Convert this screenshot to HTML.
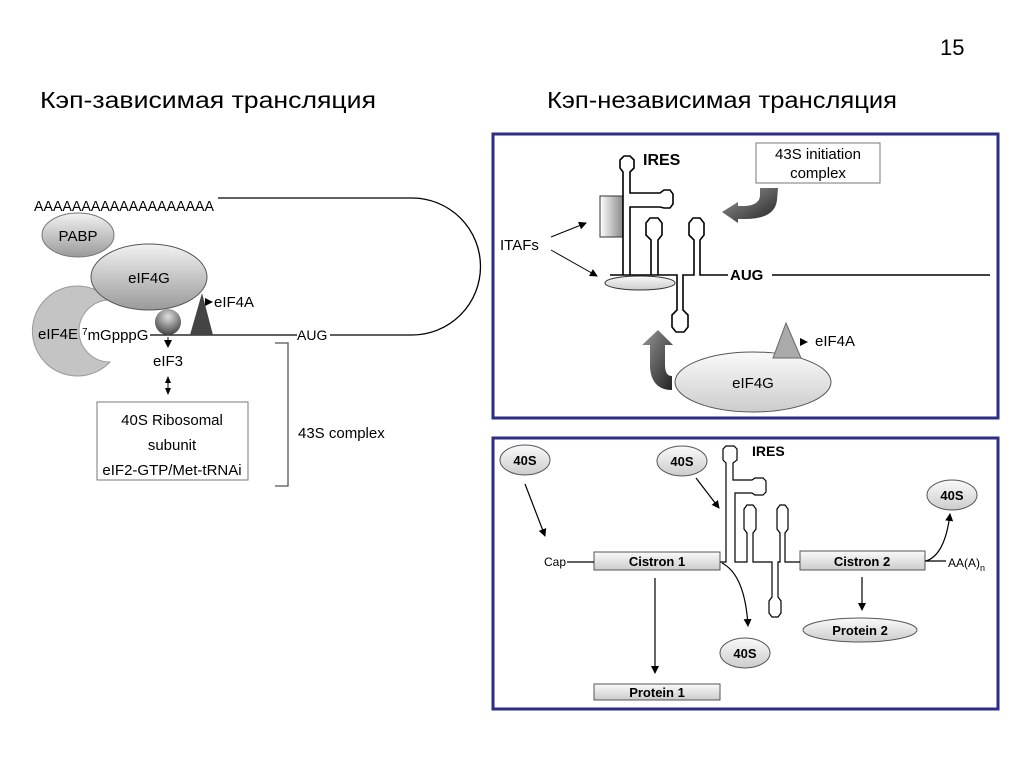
<!DOCTYPE html>
<html><head><meta charset="utf-8"><style>
html,body{margin:0;padding:0;background:#fff;}
svg{display:block;}
text{font-family:"Liberation Sans",sans-serif;}
</style></head><body>
<svg width="1024" height="768" viewBox="0 0 1024 768" xmlns="http://www.w3.org/2000/svg">
<defs>
<linearGradient id="g1" x1="0" y1="0" x2="0" y2="1"><stop offset="0" stop-color="#f2f2f2"/><stop offset="1" stop-color="#9a9a9a"/></linearGradient>
<radialGradient id="g2" cx="0.5" cy="0.3" r="0.7"><stop offset="0" stop-color="#e0e0e0"/><stop offset="1" stop-color="#444"/></radialGradient>
<linearGradient id="g3" x1="0" y1="0" x2="1" y2="0"><stop offset="0" stop-color="#fff"/><stop offset="1" stop-color="#888"/></linearGradient>
<linearGradient id="g4" x1="0" y1="0" x2="0" y2="1"><stop offset="0" stop-color="#fafafa"/><stop offset="1" stop-color="#ccc"/></linearGradient>
<linearGradient id="g5" x1="0" y1="0" x2="1" y2="1"><stop offset="0" stop-color="#999"/><stop offset="1" stop-color="#222"/></linearGradient>
<marker id="ah" markerWidth="8" markerHeight="8" refX="7" refY="4" orient="auto" markerUnits="userSpaceOnUse"><path d="M0,0 L8,4 L0,8 Z" fill="#000"/></marker>
</defs>

<text x="940" y="55" font-size="22">15</text>
<text x="40" y="108" font-size="23" textLength="336" lengthAdjust="spacingAndGlyphs">Кэп-зависимая трансляция</text>
<text x="547" y="108" font-size="23" textLength="350" lengthAdjust="spacingAndGlyphs">Кэп-независимая трансляция</text>

<!-- LEFT -->
<text x="34" y="211" font-size="15" textLength="180" lengthAdjust="spacingAndGlyphs">AAAAAAAAAAAAAAAAAAA</text>
<path d="M218,198 L412,198 A68.5,68.5 0 0 1 412,335 L330,335" fill="none" stroke="#000" stroke-width="1.3"/>
<line x1="150" y1="335" x2="297" y2="335" stroke="#000" stroke-width="1.3"/>
<text x="297" y="340" font-size="14">AUG</text>
<ellipse cx="78" cy="235" rx="36" ry="22" fill="url(#g1)" stroke="#777"/>
<text x="78" y="241" font-size="15" text-anchor="middle">PABP</text>
<path d="M110,300 A45,45 0 1 0 110,362 A26,26 0 0 1 110,300 Z" fill="#c4c4c4" stroke="#999"/>
<ellipse cx="149" cy="277" rx="58" ry="33" fill="url(#g1)" stroke="#555"/>
<text x="149" y="283" font-size="15" text-anchor="middle">eIF4G</text>
<text x="38" y="339" font-size="15">eIF4E</text>
<text x="82" y="340" font-size="15"><tspan font-size="10" dy="-5">7</tspan><tspan dy="5">mGpppG</tspan></text>
<circle cx="168" cy="322" r="13" fill="url(#g2)"/>
<path d="M190,335 L213,335 L202,293 Z" fill="#444"/>
<line x1="206" y1="302" x2="212" y2="302" stroke="#000" marker-end="url(#ah)"/>
<text x="214" y="307" font-size="15">eIF4A</text>
<line x1="168" y1="337" x2="168" y2="347" stroke="#000" marker-end="url(#ah)"/>
<text x="168" y="366" font-size="15" text-anchor="middle">eIF3</text>
<path d="M168,376 L165,383 L171,383 Z M168,395 L165,388 L171,388 Z" fill="#000"/>
<line x1="168" y1="380" x2="168" y2="392" stroke="#000"/>
<rect x="97" y="402" width="151" height="78" fill="#fff" stroke="#777"/>
<text x="172" y="425" font-size="15" text-anchor="middle">40S Ribosomal</text>
<text x="172" y="450" font-size="15" text-anchor="middle">subunit</text>
<text x="172" y="475" font-size="15" text-anchor="middle">eIF2-GTP/Met-tRNAi</text>
<path d="M275,343 L288,343 L288,486 L275,486" fill="none" stroke="#555" stroke-width="1.3"/>
<text x="298" y="438" font-size="15">43S complex</text>

<!-- TOP RIGHT -->
<rect x="493" y="134" width="505" height="284" fill="#fff" stroke="#2d2d88" stroke-width="3"/>
<text x="643" y="165" font-size="16" font-weight="bold">IRES</text>
<rect x="756" y="143" width="124" height="40" fill="#fff" stroke="#777"/>
<text x="818" y="159" font-size="15" text-anchor="middle">43S initiation</text>
<text x="818" y="178" font-size="15" text-anchor="middle">complex</text>
<path d="M760,188 L778,188 L777,200 Q775,219 745,219 L738,219 L738,223 L722,212 L738,202 L738,206 L745,206 Q760,205 760,195 Z" fill="url(#g5)"/>
<rect x="600" y="196" width="23" height="41" fill="url(#g3)" stroke="#333"/>
<g fill="none" stroke="#000" stroke-width="1.6">
<path d="M623,275 L623,172 L620,168 L620,160 L624,156 L630,156 L634,160 L634,168 L630,172 L630,193 L660,193 L664,190 L670,190 L673,194 L673,204 L670,208 L664,208 L660,207 L630,207 L630,275"/>
<path d="M651,275 L651,240 L646,235 L646,223 L650,218 L658,218 L662,223 L662,235 L658,240 L658,275"/>
<path d="M610,275 L677,275 L677,310 L672,315 L672,327 L676,332 L684,332 L688,327 L688,315 L683,310 L683,275 L694,275 L694,240 L689,235 L689,223 L693,218 L700,218 L704,223 L704,235 L700,240 L700,275 L728,275"/>
<line x1="772" y1="275" x2="990" y2="275"/>
</g>
<ellipse cx="640" cy="283" rx="35" ry="7" fill="url(#g4)" stroke="#333"/>
<text x="730" y="280" font-size="15" font-weight="bold">AUG</text>
<text x="500" y="250" font-size="15">ITAFs</text>
<line x1="551" y1="237" x2="586" y2="223" stroke="#000" marker-end="url(#ah)"/>
<line x1="551" y1="250" x2="597" y2="276" stroke="#000" marker-end="url(#ah)"/>
<path d="M672,390 L672,376 Q665,376 665,365 L665,345 L673,345 L658,330 L642,345 L650,345 L650,368 Q652,390 672,390 Z" fill="url(#g5)"/>
<ellipse cx="753" cy="382" rx="78" ry="30" fill="url(#g4)" stroke="#555"/>
<text x="753" y="388" font-size="15" text-anchor="middle">eIF4G</text>
<path d="M773,358 L801,358 L786,323 Z" fill="#aaa" stroke="#666"/>
<line x1="800" y1="342" x2="807" y2="342" stroke="#000" marker-end="url(#ah)"/>
<text x="815" y="346" font-size="15">eIF4A</text>

<!-- BOTTOM RIGHT -->
<rect x="493" y="438" width="505" height="271" fill="#fff" stroke="#2d2d88" stroke-width="3"/>
<g font-size="13" font-weight="bold" text-anchor="middle">
<ellipse cx="525" cy="460" rx="25" ry="15" fill="url(#g4)" stroke="#555"/><text x="525" y="465">40S</text>
<ellipse cx="682" cy="461" rx="25" ry="15" fill="url(#g4)" stroke="#555"/><text x="682" y="466">40S</text>
<ellipse cx="952" cy="495" rx="25" ry="15" fill="url(#g4)" stroke="#555"/><text x="952" y="500">40S</text>
<ellipse cx="745" cy="653" rx="25" ry="15" fill="url(#g4)" stroke="#555"/><text x="745" y="658">40S</text>
<ellipse cx="860" cy="630" rx="57" ry="12" fill="url(#g4)" stroke="#555"/><text x="860" y="635">Protein 2</text>
<rect x="594" y="552" width="126" height="18" fill="url(#g4)" stroke="#555"/><text x="657" y="566">Cistron 1</text>
<rect x="800" y="551" width="125" height="19" fill="url(#g4)" stroke="#555"/><text x="862" y="566">Cistron 2</text>
<rect x="594" y="684" width="126" height="16" fill="url(#g4)" stroke="#555"/><text x="657" y="697">Protein 1</text>
</g>
<text x="752" y="456" font-size="14" font-weight="bold">IRES</text>
<text x="544" y="566" font-size="12">Cap</text>
<text x="948" y="567" font-size="12">AA(A)<tspan font-size="9" dy="4">n</tspan></text>
<g fill="none" stroke="#000" stroke-width="1.2">
<line x1="567" y1="562" x2="594" y2="562"/>
<line x1="925" y1="561" x2="946" y2="561"/>
<path d="M720,562 L726,562 L726,463 L723,460 L723,449 L726,446 L734,446 L737,449 L737,460 L733,463 L733,480 L752,480 L755,478 L763,478 L766,481 L766,492 L763,495 L755,495 L752,493 L735,493 L735,562 L747,562 L747,533 L744,529 L744,509 L747,505 L753,505 L756,509 L756,529 L753,533 L753,562 L772,562 L772,597 L769,601 L769,613 L772,617 L778,617 L781,613 L781,601 L778,597 L778,562 L780,562 L780,533 L777,529 L777,509 L780,505 L785,505 L788,509 L788,529 L785,533 L785,562 L800,562"/>
<line x1="525" y1="484" x2="545" y2="536" marker-end="url(#ah)"/>
<line x1="696" y1="478" x2="719" y2="508" marker-end="url(#ah)"/>
<path d="M722,563 Q745,575 748,626" marker-end="url(#ah)"/>
<path d="M926,561 Q945,555 950,514" marker-end="url(#ah)"/>
<line x1="655" y1="578" x2="655" y2="673" marker-end="url(#ah)"/>
<line x1="862" y1="577" x2="862" y2="610" marker-end="url(#ah)"/>
</g>
</svg>
</body></html>
